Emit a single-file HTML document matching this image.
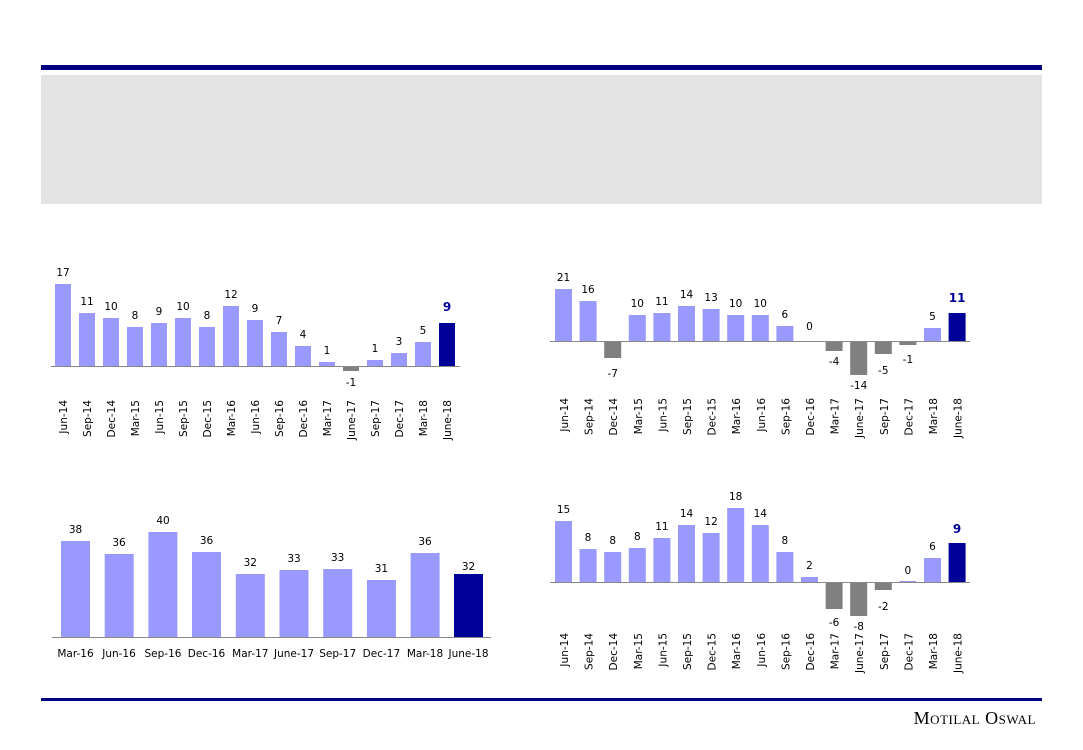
<!DOCTYPE html>
<html><head><meta charset="utf-8"><style>
html,body{margin:0;padding:0;background:#fff;width:1083px;height:750px;overflow:hidden}
svg{display:block}
text{font-family:"DejaVu Sans","Liberation Sans",sans-serif;font-size:10.5px;fill:#000}
.v{text-anchor:middle}
.x{text-anchor:end}
.l{fill:#9999ff}.d{fill:#000099}.n{fill:#808080}
</style></head><body>
<svg width="1083" height="750" viewBox="0 0 1083 750">
<rect x="41" y="65" width="1001" height="5" fill="#000080"/>
<rect x="41" y="75" width="1001" height="129" fill="#e3e3e3"/>
<rect x="41" y="698" width="1001" height="3" fill="#000080"/>
<text x="1036" y="724" style="font-family:'Liberation Serif',serif;font-size:18px;font-variant:small-caps;text-anchor:end;letter-spacing:0.5px">Motilal Oswal</text>

<!-- Chart 1 -->
<line x1="51" y1="366.5" x2="460" y2="366.5" stroke="#888"/>
<g>
<rect class="l" x="55" y="284" width="16" height="82"/><text class="v" x="63" y="276">17</text>
<rect class="l" x="79" y="313" width="16" height="53"/><text class="v" x="87" y="305">11</text>
<rect class="l" x="103" y="318" width="16" height="48"/><text class="v" x="111" y="310">10</text>
<rect class="l" x="127" y="327" width="16" height="39"/><text class="v" x="135" y="319">8</text>
<rect class="l" x="151" y="323" width="16" height="43"/><text class="v" x="159" y="315">9</text>
<rect class="l" x="175" y="318" width="16" height="48"/><text class="v" x="183" y="310">10</text>
<rect class="l" x="199" y="327" width="16" height="39"/><text class="v" x="207" y="319">8</text>
<rect class="l" x="223" y="306" width="16" height="60"/><text class="v" x="231" y="298">12</text>
<rect class="l" x="247" y="320" width="16" height="46"/><text class="v" x="255" y="312">9</text>
<rect class="l" x="271" y="332" width="16" height="34"/><text class="v" x="279" y="324">7</text>
<rect class="l" x="295" y="346" width="16" height="20"/><text class="v" x="303" y="338">4</text>
<rect class="l" x="319" y="362" width="16" height="4"/><text class="v" x="327" y="354">1</text>
<rect class="n" x="343" y="367" width="16" height="4"/><text class="v" x="351" y="386">-1</text>
<rect class="l" x="367" y="360" width="16" height="6"/><text class="v" x="375" y="352">1</text>
<rect class="l" x="391" y="353" width="16" height="13"/><text class="v" x="399" y="345">3</text>
<rect class="l" x="415" y="342" width="16" height="24"/><text class="v" x="423" y="334">5</text>
<rect class="d" x="439" y="323" width="16" height="43"/><text class="v" x="447" y="311" style="fill:#000099;font-weight:bold;font-size:12px">9</text>
</g>
<g>
<text class="x" transform="translate(67,400) rotate(-90)">Jun-14</text>
<text class="x" transform="translate(91,400) rotate(-90)">Sep-14</text>
<text class="x" transform="translate(115,400) rotate(-90)">Dec-14</text>
<text class="x" transform="translate(139,400) rotate(-90)">Mar-15</text>
<text class="x" transform="translate(163,400) rotate(-90)">Jun-15</text>
<text class="x" transform="translate(187,400) rotate(-90)">Sep-15</text>
<text class="x" transform="translate(211,400) rotate(-90)">Dec-15</text>
<text class="x" transform="translate(235,400) rotate(-90)">Mar-16</text>
<text class="x" transform="translate(259,400) rotate(-90)">Jun-16</text>
<text class="x" transform="translate(283,400) rotate(-90)">Sep-16</text>
<text class="x" transform="translate(307,400) rotate(-90)">Dec-16</text>
<text class="x" transform="translate(331,400) rotate(-90)">Mar-17</text>
<text class="x" transform="translate(355,400) rotate(-90)">June-17</text>
<text class="x" transform="translate(379,400) rotate(-90)">Sep-17</text>
<text class="x" transform="translate(403,400) rotate(-90)">Dec-17</text>
<text class="x" transform="translate(427,400) rotate(-90)">Mar-18</text>
<text class="x" transform="translate(451,400) rotate(-90)">June-18</text>
</g>

<!-- Chart 2 -->
<line x1="550" y1="341.5" x2="970" y2="341.5" stroke="#888"/>
<g>
<rect class="l" x="555" y="289" width="17" height="52"/><text class="v" x="563.5" y="281">21</text>
<rect class="l" x="579.6" y="301" width="17" height="40"/><text class="v" x="588" y="293">16</text>
<rect class="n" x="604.2" y="342" width="17" height="16"/><text class="v" x="612.7" y="377">-7</text>
<rect class="l" x="628.8" y="315" width="17" height="26"/><text class="v" x="637.3" y="307">10</text>
<rect class="l" x="653.4" y="313" width="17" height="28"/><text class="v" x="661.9" y="305">11</text>
<rect class="l" x="678" y="306" width="17" height="35"/><text class="v" x="686.5" y="298">14</text>
<rect class="l" x="702.6" y="309" width="17" height="32"/><text class="v" x="711.1" y="301">13</text>
<rect class="l" x="727.2" y="315" width="17" height="26"/><text class="v" x="735.7" y="307">10</text>
<rect class="l" x="751.8" y="315" width="17" height="26"/><text class="v" x="760.3" y="307">10</text>
<rect class="l" x="776.4" y="326" width="17" height="15"/><text class="v" x="784.9" y="318">6</text>
<text class="v" x="809.5" y="330">0</text>
<rect class="n" x="825.6" y="342" width="17" height="9"/><text class="v" x="834.1" y="365">-4</text>
<rect class="n" x="850.2" y="342" width="17" height="33"/><text class="v" x="858.7" y="389">-14</text>
<rect class="n" x="874.8" y="342" width="17" height="12"/><text class="v" x="883.3" y="374">-5</text>
<rect class="n" x="899.4" y="342" width="17" height="3"/><text class="v" x="907.9" y="363">-1</text>
<rect class="l" x="924" y="328" width="17" height="13"/><text class="v" x="932.5" y="320">5</text>
<rect class="d" x="948.6" y="313" width="17" height="28"/><text class="v" x="957.1" y="302" style="fill:#000099;font-weight:bold;font-size:12px">11</text>
</g>
<g>
<text class="x" transform="translate(568,398) rotate(-90)">Jun-14</text>
<text class="x" transform="translate(592.6,398) rotate(-90)">Sep-14</text>
<text class="x" transform="translate(617.2,398) rotate(-90)">Dec-14</text>
<text class="x" transform="translate(641.8,398) rotate(-90)">Mar-15</text>
<text class="x" transform="translate(666.4,398) rotate(-90)">Jun-15</text>
<text class="x" transform="translate(691,398) rotate(-90)">Sep-15</text>
<text class="x" transform="translate(715.6,398) rotate(-90)">Dec-15</text>
<text class="x" transform="translate(740.2,398) rotate(-90)">Mar-16</text>
<text class="x" transform="translate(764.8,398) rotate(-90)">Jun-16</text>
<text class="x" transform="translate(789.4,398) rotate(-90)">Sep-16</text>
<text class="x" transform="translate(814,398) rotate(-90)">Dec-16</text>
<text class="x" transform="translate(838.6,398) rotate(-90)">Mar-17</text>
<text class="x" transform="translate(863.2,398) rotate(-90)">June-17</text>
<text class="x" transform="translate(887.8,398) rotate(-90)">Sep-17</text>
<text class="x" transform="translate(912.4,398) rotate(-90)">Dec-17</text>
<text class="x" transform="translate(937,398) rotate(-90)">Mar-18</text>
<text class="x" transform="translate(961.6,398) rotate(-90)">June-18</text>
</g>

<!-- Chart 3 -->
<line x1="52" y1="637.5" x2="491" y2="637.5" stroke="#888"/>
<g style="font-size:10px">
<rect class="l" x="61" y="541" width="29" height="96"/><text class="v" x="75.5" y="533">38</text>
<rect class="l" x="104.7" y="554" width="29" height="83"/><text class="v" x="119" y="546">36</text>
<rect class="l" x="148.4" y="532" width="29" height="105"/><text class="v" x="163" y="524">40</text>
<rect class="l" x="192" y="552" width="29" height="85"/><text class="v" x="206.5" y="544">36</text>
<rect class="l" x="235.8" y="574" width="29" height="63"/><text class="v" x="250.3" y="566">32</text>
<rect class="l" x="279.5" y="570" width="29" height="67"/><text class="v" x="294" y="562">33</text>
<rect class="l" x="323.2" y="569" width="29" height="68"/><text class="v" x="337.7" y="561">33</text>
<rect class="l" x="366.9" y="580" width="29" height="57"/><text class="v" x="381.4" y="572">31</text>
<rect class="l" x="410.6" y="553" width="29" height="84"/><text class="v" x="425" y="545">36</text>
<rect class="d" x="454" y="574" width="29" height="63"/><text class="v" x="468.5" y="570">32</text>
</g>
<g style="font-size:10px">
<text class="v" x="75.5" y="657">Mar-16</text>
<text class="v" x="119" y="657">Jun-16</text>
<text class="v" x="163" y="657">Sep-16</text>
<text class="v" x="206.5" y="657">Dec-16</text>
<text class="v" x="250.3" y="657">Mar-17</text>
<text class="v" x="294" y="657">June-17</text>
<text class="v" x="337.7" y="657">Sep-17</text>
<text class="v" x="381.4" y="657">Dec-17</text>
<text class="v" x="425" y="657">Mar-18</text>
<text class="v" x="468.5" y="657">June-18</text>
</g>

<!-- Chart 4 -->
<line x1="550" y1="582.5" x2="970" y2="582.5" stroke="#888"/>
<g>
<rect class="l" x="555" y="521" width="17" height="61"/><text class="v" x="563.5" y="513">15</text>
<rect class="l" x="579.6" y="549" width="17" height="33"/><text class="v" x="588" y="541">8</text>
<rect class="l" x="604.2" y="552" width="17" height="30"/><text class="v" x="612.7" y="544">8</text>
<rect class="l" x="628.8" y="548" width="17" height="34"/><text class="v" x="637.3" y="540">8</text>
<rect class="l" x="653.4" y="538" width="17" height="44"/><text class="v" x="661.9" y="530">11</text>
<rect class="l" x="678" y="525" width="17" height="57"/><text class="v" x="686.5" y="517">14</text>
<rect class="l" x="702.6" y="533" width="17" height="49"/><text class="v" x="711.1" y="525">12</text>
<rect class="l" x="727.2" y="508" width="17" height="74"/><text class="v" x="735.7" y="500">18</text>
<rect class="l" x="751.8" y="525" width="17" height="57"/><text class="v" x="760.3" y="517">14</text>
<rect class="l" x="776.4" y="552" width="17" height="30"/><text class="v" x="784.9" y="544">8</text>
<rect class="l" x="801" y="577" width="17" height="5"/><text class="v" x="809.5" y="569">2</text>
<rect class="n" x="825.6" y="583" width="17" height="26"/><text class="v" x="834.1" y="626">-6</text>
<rect class="n" x="850.2" y="583" width="17" height="33"/><text class="v" x="858.7" y="630">-8</text>
<rect class="n" x="874.8" y="583" width="17" height="7"/><text class="v" x="883.3" y="610">-2</text>
<rect class="l" x="899.4" y="581" width="17" height="1"/><text class="v" x="907.9" y="574">0</text>
<rect class="l" x="924" y="558" width="17" height="24"/><text class="v" x="932.5" y="550">6</text>
<rect class="d" x="948.6" y="543" width="17" height="39"/><text class="v" x="957.1" y="533" style="fill:#000099;font-weight:bold;font-size:12px">9</text>
</g>
<g>
<text class="x" transform="translate(568,633) rotate(-90)">Jun-14</text>
<text class="x" transform="translate(592.6,633) rotate(-90)">Sep-14</text>
<text class="x" transform="translate(617.2,633) rotate(-90)">Dec-14</text>
<text class="x" transform="translate(641.8,633) rotate(-90)">Mar-15</text>
<text class="x" transform="translate(666.4,633) rotate(-90)">Jun-15</text>
<text class="x" transform="translate(691,633) rotate(-90)">Sep-15</text>
<text class="x" transform="translate(715.6,633) rotate(-90)">Dec-15</text>
<text class="x" transform="translate(740.2,633) rotate(-90)">Mar-16</text>
<text class="x" transform="translate(764.8,633) rotate(-90)">Jun-16</text>
<text class="x" transform="translate(789.4,633) rotate(-90)">Sep-16</text>
<text class="x" transform="translate(814,633) rotate(-90)">Dec-16</text>
<text class="x" transform="translate(838.6,633) rotate(-90)">Mar-17</text>
<text class="x" transform="translate(863.2,633) rotate(-90)">June-17</text>
<text class="x" transform="translate(887.8,633) rotate(-90)">Sep-17</text>
<text class="x" transform="translate(912.4,633) rotate(-90)">Dec-17</text>
<text class="x" transform="translate(937,633) rotate(-90)">Mar-18</text>
<text class="x" transform="translate(961.6,633) rotate(-90)">June-18</text>
</g>
</svg>
</body></html>
